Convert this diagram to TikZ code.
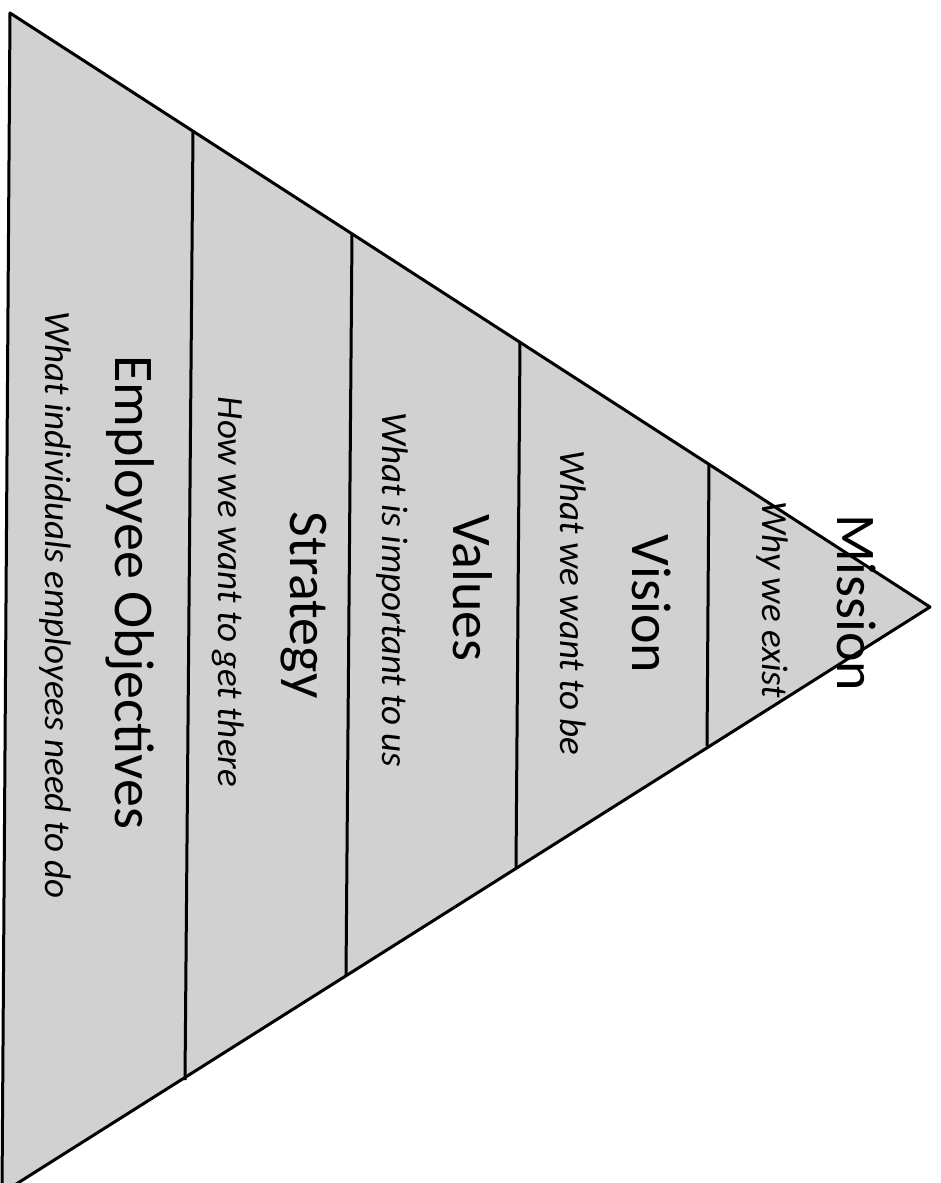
\documentclass[tikz,border=0pt]{standalone}
\usepackage{fontspec}
\setmainfont{Carlito}
\begin{document}
\begin{tikzpicture}[x=1pt,y=-1pt,
  titletext/.style={rotate=-90, anchor=base, inner sep=0pt, font=\fontsize{56}{60}\selectfont},
  subtext/.style={rotate=-90, anchor=base, inner sep=0pt, font=\fontsize{37}{40}\selectfont\itshape},
  outline/.style={line width=3pt, black, line join=round},
  divider/.style={line width=3pt, black}]
\useasboundingbox (0,0) rectangle (940,1183);
\clip (0,0) rectangle (940,1183);
\coordinate (tl) at (10,13);
\coordinate (bl) at (2,1193);
\coordinate (ap) at (930,607);
\fill[black!18] (tl) -- (ap) -- (bl) -- cycle;
% dividers
\coordinate (d1t) at (193,132);  \coordinate (d1b) at (185,1080);
\coordinate (d2t) at (352,234);  \coordinate (d2b) at (346,976);
\coordinate (d3t) at (520,342);  \coordinate (d3b) at (516,868);
\coordinate (d4t) at (709,464);  \coordinate (d4b) at (707,746);
\draw[divider] (d1t) -- (d1b);
\draw[divider] (d2t) -- (d2b);
\draw[divider] (d3t) -- (d3b);
\draw[divider] (d4t) -- (d4b);
\draw[outline] (tl) -- (ap) -- (bl) -- cycle;
% texts
\node[titletext] (mission) at (837,603) {Mission};
\node[subtext] (missionsub) at (762,600) {Why we exist};
\node[titletext] (vision) at (632,604) {Vision};
\node[subtext] (visionsub) at (560,603) {What we want to be};
\node[titletext] (values) at (453,588) {Values};
\node[subtext] (valuessub) at (382,590) {What is important to us};
\node[titletext] (strategy) at (290,605) {Strategy};
\node[subtext] (strategysub) at (218,592) {How we want to get there};
\node[titletext] (employee) at (115,592) {Employee Objectives};
\node[subtext] (employeesub) at (45,605) {What individuals employees need to do};
\end{tikzpicture}
\end{document}
